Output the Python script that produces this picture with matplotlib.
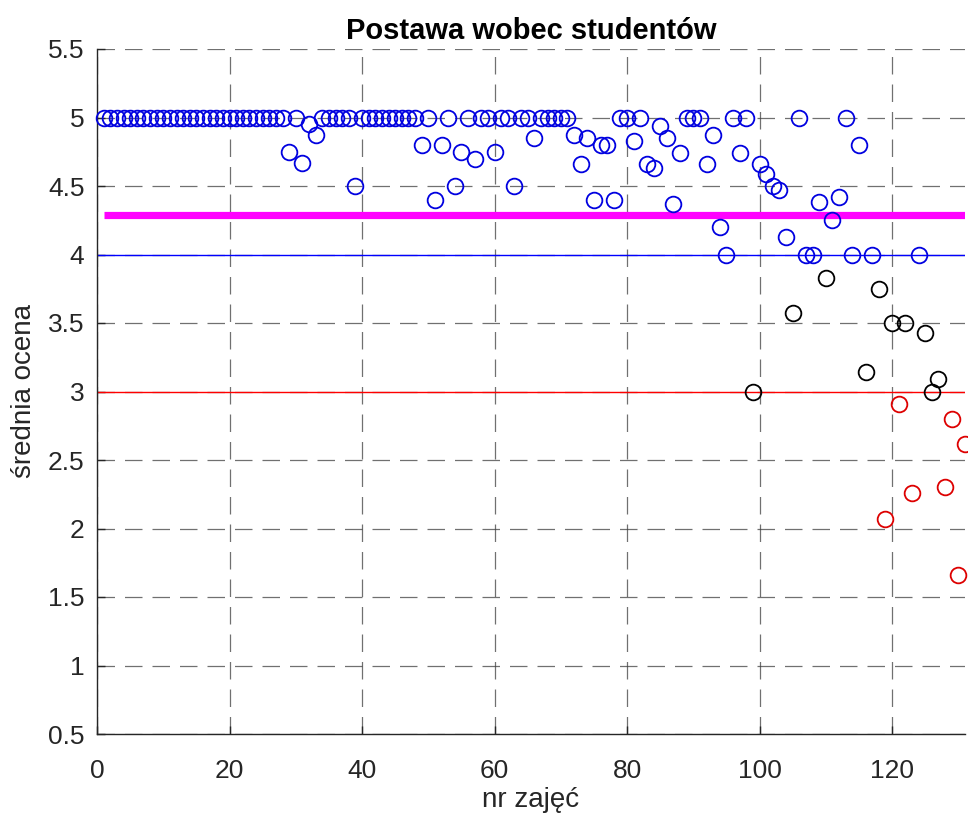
import matplotlib
matplotlib.use("Agg")
import matplotlib.pyplot as plt
import numpy as np

plt.rcParams['font.family'] = ['Liberation Sans', 'DejaVu Sans']

# lesson numbers and mean ratings
lesson = list(range(1, 132))
rating = [5.0] * 131
changes = {
    29: 4.75, 31: 4.67, 32: 4.95, 33: 4.87, 39: 4.5,
    49: 4.8, 51: 4.4, 52: 4.8, 54: 4.5, 55: 4.75, 57: 4.7, 60: 4.75,
    63: 4.5, 66: 4.85,
    72: 4.87, 73: 4.66, 74: 4.85, 75: 4.4, 76: 4.8, 77: 4.8, 78: 4.4,
    81: 4.83, 83: 4.66, 84: 4.63, 85: 4.94, 86: 4.85, 87: 4.37, 88: 4.74,
    92: 4.66, 93: 4.87, 94: 4.2, 95: 4.0, 97: 4.74,
    99: 3.0, 100: 4.66, 101: 4.59, 102: 4.5, 103: 4.47, 104: 4.13, 105: 3.57,
    107: 4.0, 108: 4.0, 109: 4.38, 110: 3.83, 111: 4.25, 112: 4.42,
    114: 4.0, 115: 4.8, 116: 3.14, 117: 4.0, 118: 3.75,
    119: 2.07, 120: 3.5, 121: 2.91, 122: 3.5, 123: 2.26, 124: 4.0,
    125: 3.43, 126: 3.0, 127: 3.09, 128: 2.30, 129: 2.80, 130: 1.66, 131: 2.62,
}
for k, v in changes.items():
    rating[k - 1] = v

mean_level = 4.285
good_level = 4.0
bad_level = 3.0

title = "Postawa wobec studentów"
xlabel = "nr zajęć"
ylabel = "średnia ocena"
xticks = [0, 20, 40, 60, 80, 100, 120]
yticks = [0.5, 1, 1.5, 2, 2.5, 3, 3.5, 4, 4.5, 5, 5.5]
yticklabels = ["0.5", "1", "1.5", "2", "2.5", "3", "3.5", "4", "4.5", "5", "5.5"]

x = np.array(lesson)
y = np.array(rating)

fig = plt.figure(figsize=(9.68, 8.14), dpi=100)
ax = fig.add_axes([97 / 968, 80 / 814, 868 / 968, 685 / 814])

ax.axhline(good_level, color='blue', lw=1.0, zorder=2)
ax.axhline(bad_level, color='red', lw=1.0, zorder=2)
ax.plot([lesson[0], lesson[-1]], [mean_level, mean_level], color='magenta', lw=5.2,
        solid_capstyle='butt', zorder=3)

cols = np.where(y >= 4, 'blue', np.where(y >= 3, 'black', 'red'))
for c, ec in [('blue', '#0000e0'), ('black', 'black'), ('red', '#dd0000')]:
    m = cols == c
    ax.plot(x[m], y[m], 'o', mfc='none', mec=ec, ms=11.3, mew=1.3, ls='none',
            clip_on=False, zorder=4)

ax.set_xlim(0, 131)
ax.set_ylim(0.5, 5.5)
ax.set_xticks(xticks)
ax.set_yticks(yticks)
ax.set_yticklabels(yticklabels)
ax.grid(True, color='#404040', lw=0.9, ls=(0, (14, 8)), alpha=0.75)
ax.set_axisbelow(True)
for s in ['top', 'right']:
    ax.spines[s].set_visible(False)
for s in ['left', 'bottom']:
    ax.spines[s].set_color('#262626')
    ax.spines[s].set_linewidth(1.0)
ax.tick_params(direction='in', length=6, width=1, colors='#262626', labelsize=19)
ax.tick_params(axis='x', pad=18)
ax.tick_params(axis='y', pad=9)
ax.set_title(title, fontsize=21, fontweight='bold', pad=7)
ax.set_xlabel(xlabel, fontsize=20, color='#262626', labelpad=3)
ax.set_ylabel(ylabel, fontsize=20, color='#262626', labelpad=8)

fig.savefig('out.png', dpi=100)
